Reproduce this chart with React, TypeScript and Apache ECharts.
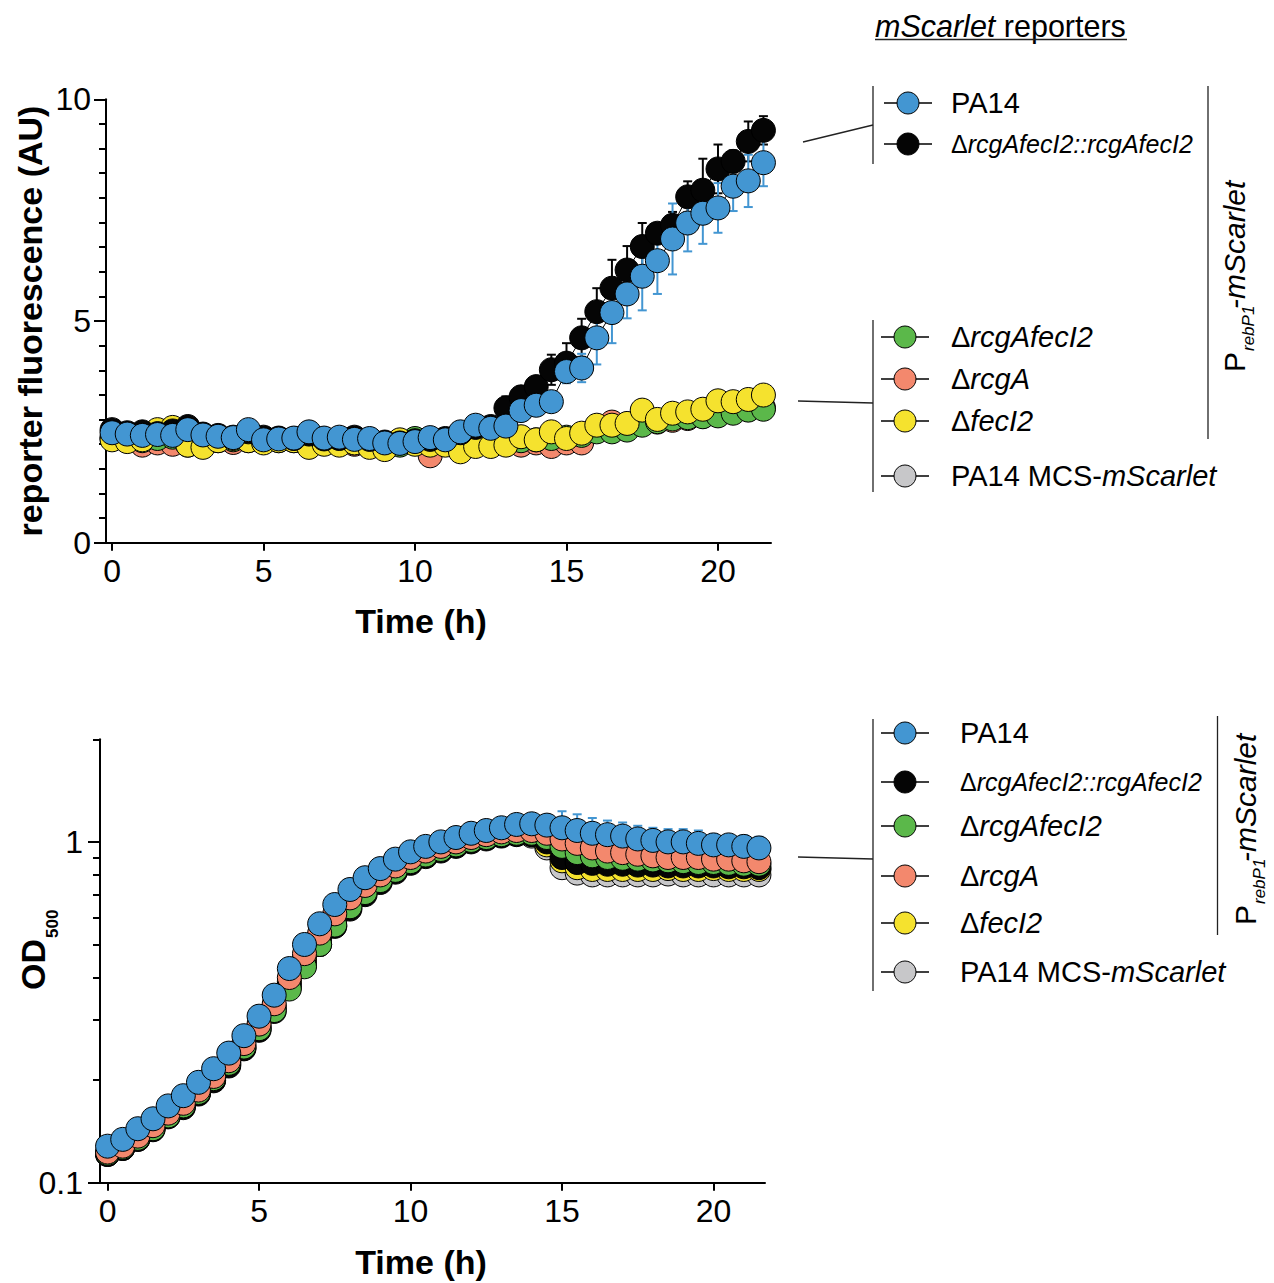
import React, { useEffect, useRef } from "react";
import * as echarts from "echarts";

// ---------------- data ----------------
const TIMES = [0, 0.5, 1, 1.5, 2, 2.5, 3, 3.5, 4, 4.5, 5, 5.5, 6, 6.5, 7, 7.5, 8, 8.5, 9, 9.5, 10, 10.5, 11, 11.5, 12, 12.5, 13, 13.5, 14, 14.5, 15, 15.5, 16, 16.5, 17, 17.5, 18, 18.5, 19, 19.5, 20, 20.5, 21, 21.5];

const X_TICKS = [0, 5, 10, 15, 20];
const OD_MAJOR_TICKS = [0.1, 1];
const OD_MINOR_TICKS = [0.2, 0.3, 0.4, 0.5, 0.6, 0.7, 0.8, 0.9, 2];

// reporter fluorescence (AU)
const FL_PA14 = [2.48, 2.45, 2.42, 2.44, 2.42, 2.55, 2.43, 2.40, 2.37, 2.55, 2.32, 2.34, 2.36, 2.50, 2.36, 2.38, 2.33, 2.35, 2.25, 2.24, 2.28, 2.37, 2.32, 2.50, 2.65, 2.58, 2.63, 2.98, 3.10, 3.18, 3.86, 3.94, 4.62, 5.19, 5.61, 6.01, 6.36, 6.85, 7.21, 7.43, 7.55, 8.04, 8.16, 8.57];
const FL_PA14_SD = [0.06, 0.05, 0.06, 0.05, 0.06, 0.07, 0.05, 0.05, 0.06, 0.06, 0.05, 0.05, 0.06, 0.05, 0.05, 0.06, 0.05, 0.05, 0.06, 0.05, 0.06, 0.06, 0.05, 0.07, 0.08, 0.08, 0.10, 0.12, 0.12, 0.10, 0.26, 0.32, 0.60, 0.69, 0.55, 0.77, 0.75, 0.80, 0.64, 0.69, 0.56, 0.56, 0.59, 0.53];
const FL_COMP = [2.55, 2.48, 2.50, 2.46, 2.52, 2.62, 2.45, 2.42, 2.38, 2.50, 2.38, 2.36, 2.35, 2.45, 2.34, 2.35, 2.38, 2.33, 2.27, 2.25, 2.30, 2.33, 2.35, 2.48, 2.60, 2.62, 3.04, 3.29, 3.52, 3.90, 4.05, 4.62, 5.21, 5.74, 6.15, 6.68, 6.98, 7.16, 7.80, 7.95, 8.43, 8.60, 9.05, 9.30];
const FL_COMP_SD = [0.08, 0.06, 0.08, 0.06, 0.07, 0.08, 0.06, 0.06, 0.07, 0.06, 0.06, 0.06, 0.07, 0.06, 0.06, 0.06, 0.07, 0.06, 0.06, 0.06, 0.07, 0.07, 0.07, 0.08, 0.10, 0.12, 0.26, 0.24, 0.20, 0.34, 0.45, 0.43, 0.53, 0.64, 0.54, 0.53, 0.23, 0.30, 0.35, 0.71, 0.55, 0.25, 0.45, 0.32];
const FL_DRF = [2.38, 2.33, 2.30, 2.35, 2.38, 2.20, 2.36, 2.34, 2.32, 2.35, 2.28, 2.30, 2.31, 2.30, 2.29, 2.28, 2.25, 2.26, 2.24, 2.20, 2.35, 2.25, 2.22, 2.24, 2.27, 2.28, 2.26, 2.30, 2.32, 2.35, 2.38, 2.42, 2.50, 2.50, 2.54, 2.65, 2.73, 2.79, 2.82, 2.84, 2.86, 2.92, 2.99, 3.01];
const FL_DRF_SD = [0.06, 0.06, 0.06, 0.06, 0.06, 0.06, 0.06, 0.06, 0.06, 0.06, 0.06, 0.06, 0.06, 0.06, 0.06, 0.06, 0.06, 0.06, 0.06, 0.06, 0.06, 0.06, 0.06, 0.06, 0.06, 0.06, 0.06, 0.06, 0.06, 0.06, 0.07, 0.07, 0.08, 0.08, 0.08, 0.09, 0.10, 0.10, 0.10, 0.10, 0.10, 0.10, 0.12, 0.12];
const FL_DA = [2.35, 2.30, 2.20, 2.25, 2.22, 2.32, 2.28, 2.30, 2.26, 2.30, 2.30, 2.35, 2.30, 2.28, 2.30, 2.30, 2.22, 2.28, 2.20, 2.22, 2.25, 1.96, 2.22, 2.20, 2.23, 2.30, 2.25, 2.20, 2.25, 2.17, 2.25, 2.25, 2.55, 2.72, 2.65, 2.68, 2.72, 2.76, 2.80, 2.85, 2.88, 2.95, 3.00, 3.05];
const FL_DA_SD = [0.09, 0.08, 0.10, 0.08, 0.09, 0.08, 0.08, 0.09, 0.08, 0.08, 0.08, 0.09, 0.08, 0.08, 0.08, 0.09, 0.08, 0.08, 0.08, 0.08, 0.08, 0.08, 0.08, 0.08, 0.08, 0.08, 0.08, 0.08, 0.08, 0.08, 0.08, 0.08, 0.08, 0.08, 0.08, 0.08, 0.08, 0.08, 0.08, 0.08, 0.08, 0.08, 0.08, 0.08];
const FL_DF = [2.32, 2.28, 2.32, 2.55, 2.60, 2.20, 2.15, 2.30, 2.35, 2.30, 2.25, 2.30, 2.30, 2.15, 2.22, 2.20, 2.25, 2.15, 2.10, 2.32, 2.22, 2.20, 2.20, 2.05, 2.17, 2.17, 2.20, 2.39, 2.32, 2.50, 2.35, 2.47, 2.65, 2.65, 2.69, 2.99, 2.78, 2.92, 2.95, 3.01, 3.20, 3.18, 3.23, 3.33];
const FL_DF_SD = [0.06, 0.06, 0.06, 0.06, 0.06, 0.06, 0.06, 0.06, 0.06, 0.06, 0.06, 0.06, 0.06, 0.06, 0.06, 0.06, 0.06, 0.06, 0.06, 0.06, 0.06, 0.06, 0.06, 0.06, 0.06, 0.06, 0.06, 0.06, 0.06, 0.06, 0.06, 0.06, 0.06, 0.06, 0.06, 0.07, 0.07, 0.07, 0.07, 0.07, 0.08, 0.08, 0.08, 0.08];

// OD500
const OD_PA14 = [0.128, 0.134, 0.144, 0.154, 0.168, 0.180, 0.197, 0.216, 0.240, 0.270, 0.308, 0.355, 0.425, 0.500, 0.575, 0.655, 0.725, 0.785, 0.835, 0.890, 0.935, 0.970, 1.000, 1.030, 1.060, 1.080, 1.100, 1.125, 1.130, 1.120, 1.100, 1.080, 1.060, 1.050, 1.040, 1.020, 1.010, 1.000, 1.000, 0.990, 0.980, 0.980, 0.970, 0.960];
const OD_PA14_SD = [0.003, 0.003, 0.003, 0.003, 0.004, 0.004, 0.004, 0.005, 0.005, 0.006, 0.007, 0.008, 0.009, 0.010, 0.011, 0.012, 0.012, 0.013, 0.013, 0.014, 0.014, 0.015, 0.015, 0.016, 0.016, 0.017, 0.018, 0.020, 0.025, 0.050, 0.130, 0.125, 0.115, 0.105, 0.100, 0.095, 0.090, 0.090, 0.090, 0.090, 0.075, 0.070, 0.075, 0.075];
const OD_COMP = [0.121, 0.126, 0.134, 0.143, 0.156, 0.166, 0.182, 0.199, 0.220, 0.247, 0.280, 0.318, 0.375, 0.435, 0.500, 0.565, 0.635, 0.700, 0.760, 0.815, 0.865, 0.905, 0.940, 0.970, 1.000, 1.020, 1.040, 1.050, 1.050, 1.000, 0.900, 0.870, 0.865, 0.860, 0.860, 0.855, 0.855, 0.850, 0.850, 0.850, 0.850, 0.845, 0.845, 0.840];
const OD_COMP_SD = [0.003, 0.003, 0.003, 0.004, 0.004, 0.005, 0.005, 0.006, 0.007, 0.008, 0.010, 0.012, 0.022, 0.030, 0.036, 0.036, 0.034, 0.028, 0.020, 0.015, 0.015, 0.015, 0.015, 0.015, 0.015, 0.015, 0.015, 0.015, 0.020, 0.030, 0.045, 0.045, 0.045, 0.045, 0.045, 0.040, 0.020, 0.020, 0.020, 0.020, 0.020, 0.020, 0.020, 0.020];
const OD_DRF = [0.122, 0.127, 0.135, 0.144, 0.157, 0.168, 0.184, 0.202, 0.224, 0.250, 0.283, 0.320, 0.370, 0.430, 0.500, 0.570, 0.645, 0.710, 0.770, 0.825, 0.875, 0.915, 0.950, 0.980, 1.010, 1.030, 1.050, 1.060, 1.060, 1.030, 0.970, 0.930, 0.910, 0.900, 0.895, 0.890, 0.885, 0.880, 0.875, 0.870, 0.870, 0.865, 0.860, 0.860];
const OD_DRF_SD = [0.003, 0.003, 0.003, 0.003, 0.004, 0.004, 0.004, 0.005, 0.005, 0.006, 0.007, 0.008, 0.010, 0.012, 0.012, 0.012, 0.012, 0.012, 0.012, 0.012, 0.012, 0.012, 0.012, 0.012, 0.012, 0.012, 0.012, 0.012, 0.015, 0.020, 0.030, 0.030, 0.030, 0.030, 0.030, 0.025, 0.020, 0.020, 0.020, 0.020, 0.020, 0.020, 0.020, 0.020];
const OD_DA = [0.123, 0.128, 0.137, 0.147, 0.160, 0.171, 0.187, 0.205, 0.228, 0.256, 0.292, 0.335, 0.400, 0.470, 0.540, 0.615, 0.685, 0.745, 0.800, 0.850, 0.900, 0.940, 0.970, 1.000, 1.030, 1.050, 1.070, 1.080, 1.080, 1.060, 1.020, 0.990, 0.960, 0.940, 0.930, 0.920, 0.910, 0.900, 0.900, 0.900, 0.890, 0.890, 0.880, 0.875];
const OD_DA_SD = [0.003, 0.003, 0.003, 0.003, 0.004, 0.004, 0.004, 0.005, 0.005, 0.006, 0.007, 0.008, 0.009, 0.010, 0.010, 0.010, 0.010, 0.010, 0.010, 0.010, 0.010, 0.010, 0.010, 0.010, 0.010, 0.010, 0.010, 0.010, 0.012, 0.020, 0.030, 0.030, 0.030, 0.030, 0.030, 0.025, 0.020, 0.020, 0.020, 0.020, 0.020, 0.020, 0.020, 0.020];
const OD_DF = [0.122, 0.127, 0.135, 0.145, 0.158, 0.169, 0.185, 0.203, 0.226, 0.253, 0.288, 0.330, 0.390, 0.455, 0.525, 0.595, 0.665, 0.730, 0.785, 0.835, 0.880, 0.920, 0.955, 0.985, 1.015, 1.035, 1.050, 1.060, 1.050, 0.980, 0.880, 0.840, 0.830, 0.830, 0.830, 0.830, 0.830, 0.835, 0.830, 0.830, 0.835, 0.830, 0.830, 0.830];
const OD_DF_SD = [0.003, 0.003, 0.003, 0.003, 0.004, 0.004, 0.004, 0.005, 0.005, 0.006, 0.007, 0.008, 0.009, 0.010, 0.010, 0.010, 0.010, 0.010, 0.010, 0.010, 0.010, 0.010, 0.010, 0.010, 0.010, 0.010, 0.010, 0.010, 0.012, 0.020, 0.030, 0.030, 0.025, 0.025, 0.025, 0.020, 0.020, 0.020, 0.020, 0.020, 0.020, 0.020, 0.020, 0.020];
const OD_MCS = [0.121, 0.126, 0.134, 0.144, 0.157, 0.167, 0.183, 0.200, 0.222, 0.248, 0.283, 0.325, 0.385, 0.450, 0.520, 0.590, 0.660, 0.725, 0.780, 0.830, 0.875, 0.915, 0.950, 0.980, 1.010, 1.030, 1.045, 1.055, 1.040, 0.960, 0.840, 0.810, 0.800, 0.800, 0.800, 0.800, 0.800, 0.805, 0.800, 0.800, 0.800, 0.800, 0.800, 0.800];
const OD_MCS_SD = [0.003, 0.003, 0.003, 0.003, 0.004, 0.004, 0.004, 0.005, 0.005, 0.006, 0.007, 0.008, 0.009, 0.010, 0.010, 0.010, 0.010, 0.010, 0.010, 0.010, 0.010, 0.010, 0.010, 0.010, 0.010, 0.010, 0.010, 0.010, 0.015, 0.025, 0.060, 0.040, 0.030, 0.025, 0.025, 0.020, 0.020, 0.020, 0.020, 0.020, 0.020, 0.020, 0.020, 0.020];

const STRAIN_COLORS: Record<string, string> = {
  PA14: "#4396d2",
  comp: "#050505",
  dRF: "#5bb84a",
  dA: "#f3886d",
  dF: "#f5e22e",
  MCS: "#c7c7c9",
};

const STRAIN_LABELS: Record<string, string> = {
  PA14: "{n|PA14}",
  comp: "{n|Δ}{i|rcgAfecI2::rcgAfecI2}",
  dRF: "{n|Δ}{i|rcgAfecI2}",
  dA: "{n|Δ}{i|rcgA}",
  dF: "{n|Δ}{i|fecI2}",
  MCS: "{n|PA14 MCS-}{i|mScarlet}",
};

const FL_DATA: Record<string, number[][]> = {
  PA14: [FL_PA14, FL_PA14_SD],
  comp: [FL_COMP, FL_COMP_SD],
  dRF: [FL_DRF, FL_DRF_SD],
  dA: [FL_DA, FL_DA_SD],
  dF: [FL_DF, FL_DF_SD],
};
const OD_DATA: Record<string, number[][]> = {
  PA14: [OD_PA14, OD_PA14_SD],
  comp: [OD_COMP, OD_COMP_SD],
  dRF: [OD_DRF, OD_DRF_SD],
  dA: [OD_DA, OD_DA_SD],
  dF: [OD_DF, OD_DF_SD],
  MCS: [OD_MCS, OD_MCS_SD],
};

const FL_DRAW_ORDER = ["dA", "dRF", "dF", "comp", "PA14"];
const OD_DRAW_ORDER = ["MCS", "dF", "comp", "dRF", "dA", "PA14"];

// ---------------- styling ----------------
const FONT = '"Liberation Sans", Arial, Helvetica, sans-serif';
const AXIS_LINE = { color: "#000", width: 2 };

function errorSeries(xi: number, yi: number, key: string, vals: number[], sds: number[]) {
  const color = STRAIN_COLORS[key];
  return {
    type: "custom",
    name: key + "-sd",
    xAxisIndex: xi,
    yAxisIndex: yi,
    silent: true,
    data: TIMES.map((t, i) => [t, vals[i] - sds[i], vals[i] + sds[i]]),
    encode: { x: 0, y: [1, 2] },
    renderItem: (params: any, api: any) => {
      const x = api.value(0);
      const lo = api.coord([x, api.value(1)]);
      const hi = api.coord([x, api.value(2)]);
      const h = 4.5;
      const st = { stroke: color, lineWidth: 2 };
      return {
        type: "group",
        children: [
          { type: "line", shape: { x1: lo[0], y1: lo[1], x2: hi[0], y2: hi[1] }, style: st },
          { type: "line", shape: { x1: hi[0] - h, y1: hi[1], x2: hi[0] + h, y2: hi[1] }, style: st },
          { type: "line", shape: { x1: lo[0] - h, y1: lo[1], x2: lo[0] + h, y2: lo[1] }, style: st },
        ],
      };
    },
  };
}

function lineSeries(xi: number, yi: number, key: string, vals: number[]) {
  return {
    type: "line",
    name: key,
    xAxisIndex: xi,
    yAxisIndex: yi,
    data: TIMES.map((t, i) => [t, vals[i]]),
    symbol: "circle",
    symbolSize: 24,
    showSymbol: true,
    showAllSymbol: true,
    silent: true,
    lineStyle: { color: "#000", width: 1 },
    itemStyle: { color: STRAIN_COLORS[key], borderColor: "#000", borderWidth: 1 },
    emphasis: { disabled: true },
  };
}

function rich(fs: number) {
  return {
    n: { fontSize: fs, fontFamily: FONT, fill: "#000" },
    i: { fontSize: fs, fontFamily: FONT, fontStyle: "italic", fill: "#000" },
  };
}

function txt(x: number, y: number, text: string, extra: any = {}, rotation = 0) {
  return {
    type: "text",
    x,
    y,
    rotation,
    silent: true,
    style: {
      text,
      fontFamily: FONT,
      fill: "#000",
      align: "left",
      verticalAlign: "middle",
      textAlign: "left",
      textVerticalAlign: "middle",
      ...extra,
    },
  };
}

function seg(x1: number, y1: number, x2: number, y2: number, w = 1.3) {
  return { type: "line", silent: true, shape: { x1, y1, x2, y2 }, style: { stroke: "#222", lineWidth: w } };
}

function legendItem(cx: number, cy: number, tx: number, key: string, fs: number) {
  return [
    { type: "line", silent: true, shape: { x1: cx - 24, y1: cy, x2: cx + 24, y2: cy }, style: { stroke: "#000", lineWidth: 1.5 } },
    { type: "circle", silent: true, shape: { cx, cy, r: 11 }, style: { fill: STRAIN_COLORS[key], stroke: "#000", lineWidth: 1 } },
    txt(tx, cy, STRAIN_LABELS[key], { rich: rich(fs), fontSize: fs }),
  ];
}

function promoterLabel(x: number, y: number) {
  return {
    type: "group",
    x,
    y,
    rotation: Math.PI / 2,
    silent: true,
    children: [
      txt(0, 0, "P", { fontSize: 30 }),
      txt(21, 14, "rebP1", { fontSize: 17, fontStyle: "italic" }),
      txt(63, 0, "-mScarlet", { fontSize: 30, fontStyle: "italic" }),
    ],
  };
}

function buildOption() {
  const series: any[] = [];
  FL_DRAW_ORDER.forEach((k) => {
    const [v, sd] = FL_DATA[k];
    series.push(errorSeries(0, 0, k, v, sd));
    series.push(lineSeries(0, 0, k, v));
  });
  OD_DRAW_ORDER.forEach((k) => {
    const [v, sd] = OD_DATA[k];
    series.push(errorSeries(1, 1, k, v, sd));
    series.push(lineSeries(1, 1, k, v));
  });

  const topLegend = [
    ...legendItem(908, 103, 951, "PA14", 29),
    ...legendItem(908, 144, 951, "comp", 25),
    ...legendItem(905, 337, 951, "dRF", 29),
    ...legendItem(905, 379, 951, "dA", 29),
    ...legendItem(905, 421, 951, "dF", 29),
    ...legendItem(905, 476, 951, "MCS", 29),
  ];
  const bottomLegend = [
    ...legendItem(905, 733, 960, "PA14", 29),
    ...legendItem(905, 782, 960, "comp", 25),
    ...legendItem(905, 826, 960, "dRF", 29),
    ...legendItem(905, 876, 960, "dA", 29),
    ...legendItem(905, 923, 960, "dF", 29),
    ...legendItem(905, 972, 960, "MCS", 29),
  ];

  const graphicElements: any[] = [
    // title
    txt(875, 26, "{i|mScarlet}{n| reporters}", { rich: rich(30.5), fontSize: 30.5 }),
    seg(875, 39.5, 1127, 39.5, 1.5),
    // top brackets
    seg(873, 86, 873, 164),
    seg(803, 142, 873, 125),
    seg(873, 320, 873, 492),
    seg(798, 401, 873, 403),
    seg(1208, 86, 1208, 439),
    promoterLabel(1234, 372),
    ...topLegend,
    // bottom brackets
    seg(873, 719, 873, 991),
    seg(798, 857, 873, 859),
    seg(1217.5, 716, 1217.5, 935),
    promoterLabel(1245, 925),
    ...bottomLegend,
    // axis titles
    txt(30, 321, "reporter fluorescence (AU)", { fontSize: 34, fontWeight: "bold", align: "center", textAlign: "center" }, Math.PI / 2),
    txt(421, 621, "Time (h)", { fontSize: 34, fontWeight: "bold", align: "center", textAlign: "center" }),
    txt(421, 1262, "Time (h)", { fontSize: 34, fontWeight: "bold", align: "center", textAlign: "center" }),
    {
      type: "group",
      x: 33,
      y: 990,
      rotation: Math.PI / 2,
      silent: true,
      children: [
        txt(0, 0, "OD", { fontSize: 34, fontWeight: "bold" }),
        txt(52, 19, "500", { fontSize: 17, fontWeight: "bold" }),
      ],
    },
  ];

  const xAxisCommon = {
    type: "value",
    axisLine: { show: true, onZero: false, lineStyle: AXIS_LINE },
    axisTick: { show: true, customValues: X_TICKS, length: 8, lineStyle: AXIS_LINE },
    axisLabel: { show: true, customValues: X_TICKS, fontSize: 32, color: "#000", margin: 12, fontFamily: FONT },
    splitLine: { show: false },
  };

  return {
    animation: false,
    backgroundColor: "#fff",
    textStyle: { fontFamily: FONT },
    grid: [
      { left: 106, top: 99.3, width: 665, height: 443.4, containLabel: false },
      { left: 100, top: 739.3, width: 665, height: 443.4, containLabel: false },
    ],
    xAxis: [
      { ...xAxisCommon, gridIndex: 0, min: -0.2, max: 21.75 },
      { ...xAxisCommon, gridIndex: 1, min: -0.25, max: 21.7 },
    ],
    yAxis: [
      {
        type: "value",
        gridIndex: 0,
        position: "left",
        min: 0,
        max: 10,
        interval: 5,
        axisLine: { show: true, onZero: false, lineStyle: AXIS_LINE },
        axisTick: { show: true, length: 12, lineStyle: AXIS_LINE },
        minorTick: { show: true, splitNumber: 9, length: 7, lineStyle: AXIS_LINE },
        axisLabel: { fontSize: 32, color: "#000", margin: 15, fontFamily: FONT },
        splitLine: { show: false },
        minorSplitLine: { show: false },
      },
      {
        type: "log",
        logBase: 10,
        gridIndex: 1,
        position: "left",
        offset: 0,
        min: 0.1,
        max: 2,
        axisLine: { show: true, onZero: false, lineStyle: AXIS_LINE },
        axisTick: { show: true, customValues: OD_MAJOR_TICKS, length: 12, lineStyle: AXIS_LINE },
        axisLabel: {
          customValues: OD_MAJOR_TICKS,
          fontSize: 32,
          color: "#000",
          margin: 17,
          fontFamily: FONT,
          formatter: (v: number) => (v < 0.5 ? "0.1" : "1"),
        },
        splitLine: { show: false },
      },
      {
        type: "log",
        logBase: 10,
        gridIndex: 1,
        position: "left",
        offset: 0,
        min: 0.1,
        max: 2,
        axisLine: { show: false, onZero: false },
        axisTick: { show: true, customValues: OD_MINOR_TICKS, length: 7, lineStyle: AXIS_LINE },
        axisLabel: { show: false },
        splitLine: { show: false },
      },
    ],
    series,
    graphic: { elements: graphicElements },
  };
}

export default function App() {
  const ref = useRef<HTMLDivElement>(null);
  useEffect(() => {
    if (!ref.current) return;
    const chart = echarts.init(ref.current, null, { renderer: "svg" });
    chart.setOption(buildOption() as any);
    return () => chart.dispose();
  }, []);
  return (
    <div
      ref={ref}
      style={{ position: "absolute", left: 0, top: 0, width: 1274, height: 1283, background: "#fff" }}
    />
  );
}
